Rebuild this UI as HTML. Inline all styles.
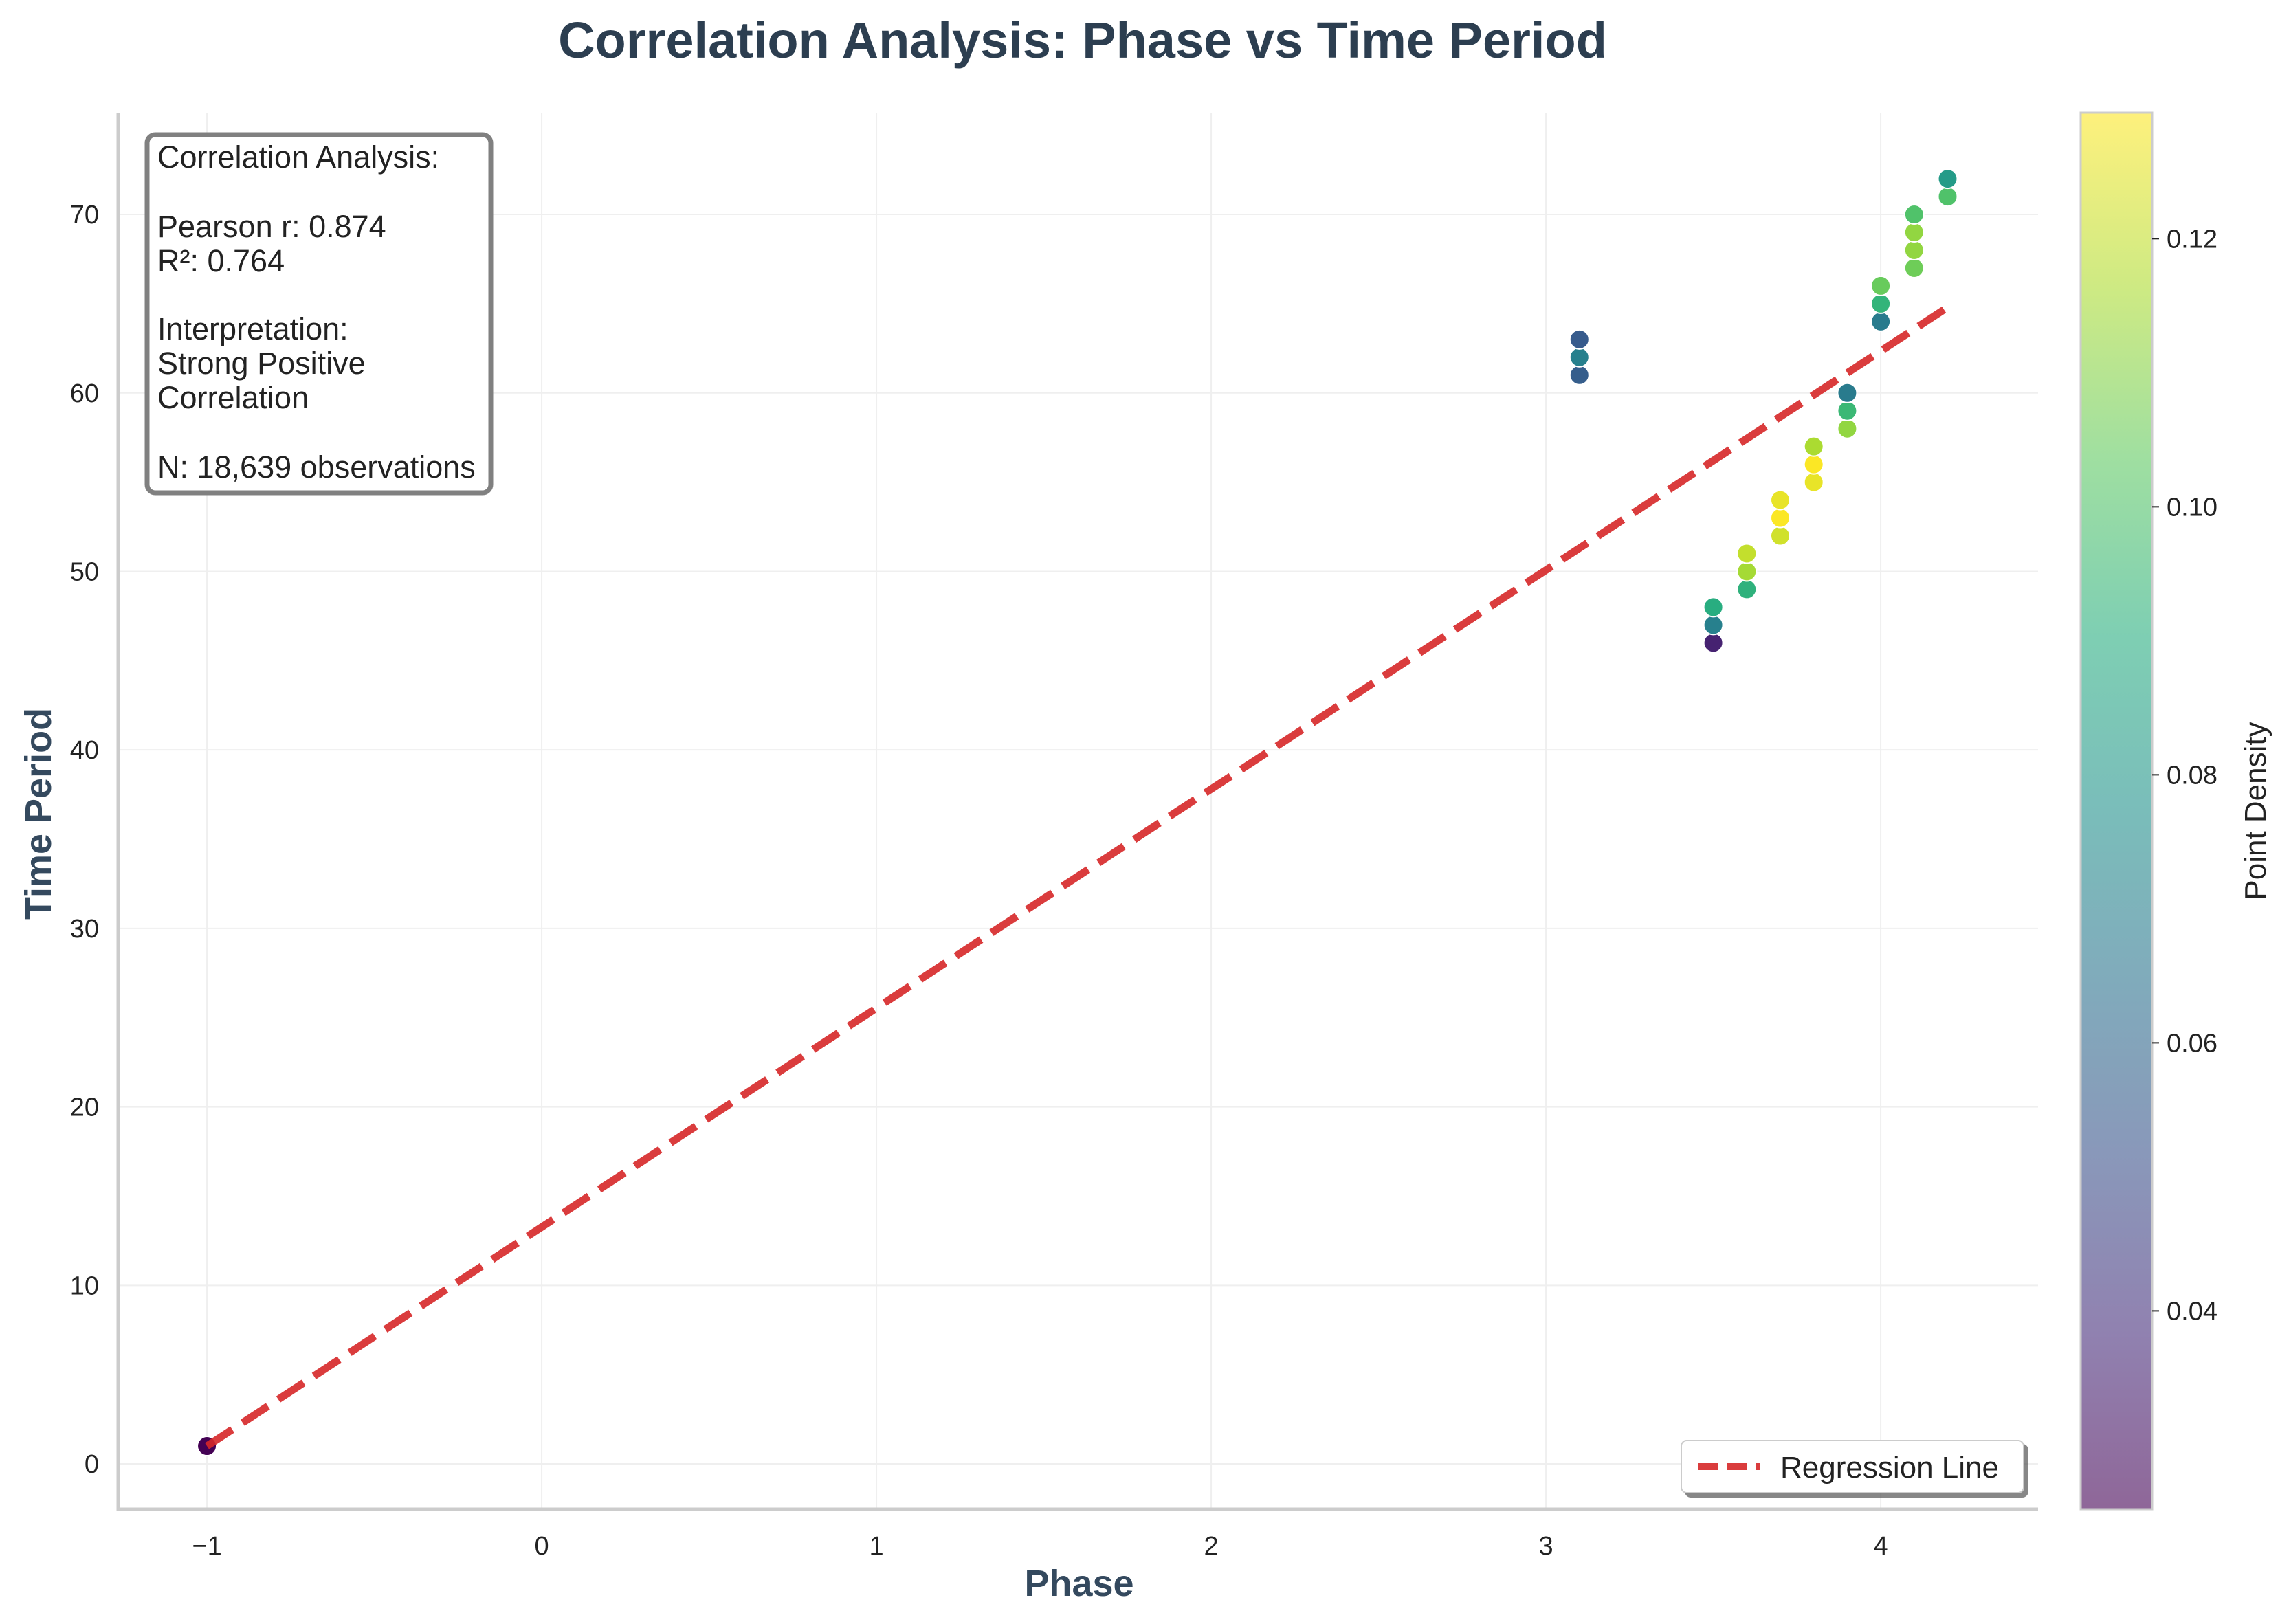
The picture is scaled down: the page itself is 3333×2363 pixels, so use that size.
<!DOCTYPE html>
<html><head><meta charset="utf-8"><style>
html,body{margin:0;padding:0;background:#fff;}
svg{display:block;font-family:"Liberation Sans",Arial,sans-serif;}
</style></head><body>
<svg id="chart" width="3333" height="2363" viewBox="0 0 3333 2363" xmlns="http://www.w3.org/2000/svg">
<defs>
<linearGradient id="cbgrad" x1="0" y1="1" x2="0" y2="0">
<stop offset="0" stop-color="#440154"/><stop offset="0.125" stop-color="#472d7b"/><stop offset="0.25" stop-color="#3b528b"/><stop offset="0.375" stop-color="#2c728e"/><stop offset="0.5" stop-color="#21918c"/><stop offset="0.625" stop-color="#28ae80"/><stop offset="0.75" stop-color="#5ec962"/><stop offset="0.875" stop-color="#addc30"/><stop offset="1" stop-color="#fde725"/>
</linearGradient>
<filter id="sh" x="-10%" y="-10%" width="130%" height="150%"><feDropShadow dx="6" dy="6" stdDeviation="0" flood-color="#555" flood-opacity="0.7"/></filter>
</defs>
<text x="1575" y="84" text-anchor="middle" font-size="74" font-weight="bold" fill="#2c3e50">Correlation Analysis: Phase vs Time Period</text>
<g id="grid"></g>
<g id="axes"></g>
<g id="pts"></g>
<g id="reg"></g>
<g id="cb"></g>
<g>
<rect x="214" y="196" width="500" height="521" rx="12" fill="#fff" stroke="#808080" stroke-width="7"/>
<text font-size="45" fill="#222">
<tspan x="229" y="244">Correlation Analysis:</tspan>
<tspan x="229" y="345">Pearson r: 0.874</tspan>
<tspan x="229" y="395">R²: 0.764</tspan>
<tspan x="229" y="494">Interpretation:</tspan>
<tspan x="229" y="544">Strong Positive</tspan>
<tspan x="229" y="594">Correlation</tspan>
<tspan x="229" y="695">N: 18,639 observations</tspan>
</text>
</g>
<g>
<rect x="2446" y="2096" width="498" height="76" rx="8" fill="#fff" stroke="#ccc" stroke-width="2" filter="url(#sh)"/>
<line x1="2470" y1="2134" x2="2560" y2="2134" stroke="#d62728" stroke-width="10" stroke-dasharray="30,12" stroke-opacity="0.9"/>
<text x="2590" y="2150" font-size="44" fill="#222">Regression Line</text>
</g>
<text x="0" y="0" font-size="54" font-weight="bold" fill="#34495e" text-anchor="middle" transform="translate(1570,2322)">Phase</text>
<text x="0" y="0" font-size="54" font-weight="bold" fill="#34495e" text-anchor="middle" transform="translate(74,1184) rotate(-90)">Time Period</text>
<text x="0" y="0" font-size="44" fill="#222" text-anchor="middle" transform="translate(3296,1180) rotate(-90)">Point Density</text>
</svg>
<script>
const phase = [-1, 3.1,3.1,3.1, 3.5,3.5,3.5, 3.6,3.6,3.6, 3.7,3.7,3.7, 3.8,3.8,3.8, 3.9,3.9,3.9, 4.0,4.0,4.0, 4.1,4.1,4.1,4.1, 4.2,4.2];
const timePeriod = [1, 61,62,63, 46,47,48, 49,50,51, 52,53,54, 55,56,57, 58,59,60, 64,65,66, 67,68,69,70, 71,72];
const density = [0.025, 0.056,0.07,0.055, 0.035,0.07,0.09, 0.092,0.115,0.12, 0.122,0.129,0.126, 0.126,0.129,0.116, 0.112,0.095,0.068, 0.068,0.093,0.105, 0.106,0.112,0.112,0.1, 0.1,0.082];
const regX = [-1, 4.2];
const regY = [1, 64.8];
const xTicks = [-1,0,1,2,3,4];
const yTicks = [0,10,20,30,40,50,60,70];
const cbTicks = [0.04,0.06,0.08,0.10,0.12];

const L=172,R=2965,T=164,B=2196;
const xMin=-1.265,xMax=4.47,yMin=-2.54,yMax=75.7,cMin=0.0252,cMax=0.1294;
const X=v=>L+(v-xMin)/(xMax-xMin)*(R-L);
const Y=v=>B-(v-yMin)/(yMax-yMin)*(B-T);
const C=v=>B-(v-cMin)/(cMax-cMin)*(B-T);
const NS='http://www.w3.org/2000/svg';
function mk(tag,attrs,parent){const e=document.createElementNS(NS,tag);for(const k in attrs)e.setAttribute(k,attrs[k]);parent.appendChild(e);return e;}
const vir=[[68,1,84],[71,45,123],[59,82,139],[44,114,142],[33,145,140],[40,174,128],[94,201,98],[173,220,48],[253,231,37]];
function viridis(t){t=Math.max(0,Math.min(1,t))*8;const i=Math.min(7,Math.floor(t)),f=t-i;const a=vir[i],b=vir[i+1];return 'rgb('+a.map((c,k)=>Math.round(c+(b[k]-c)*f)).join(',')+')';}

const grid=document.getElementById('grid'),axes=document.getElementById('axes');
xTicks.forEach(v=>{
  const g=mk('line',{x1:X(v),x2:X(v),y1:T,y2:B,stroke:'#efefef','stroke-width':2},grid);
  
  
  const t=mk('text',{x:X(v),y:B+66,'font-size':38,fill:'#222','text-anchor':'middle'},axes);
  t.textContent=v<0?'\u2212'+Math.abs(v):String(v);
  
  
});
yTicks.forEach(v=>{
  const g=mk('line',{x1:L,x2:R,y1:Y(v),y2:Y(v),stroke:'#efefef','stroke-width':2},grid);
  
  
  const t=mk('text',{x:L-28,y:Y(v)+13,'font-size':38,fill:'#222','text-anchor':'end'},axes);
  t.textContent=String(v);
  
  
});
const sp1=mk('line',{x1:L,x2:L,y1:T,y2:B+3,stroke:'#cccccc','stroke-width':5},axes);


const sp2=mk('line',{x1:L-2,x2:R,y1:B,y2:B,stroke:'#cccccc','stroke-width':5},axes);



const pts=document.getElementById('pts');
phase.forEach((p,i)=>{
  const c=mk('circle',{cx:X(p),cy:Y(timePeriod[i]),r:14,fill:viridis((density[i]-cMin)/(cMax-cMin)),stroke:'#fff','stroke-width':2},pts);
  
  
});

const reg=mk('line',{x1:X(regX[0]),y1:Y(regY[0]),x2:X(regX[1]),y2:Y(regY[1]),stroke:'#d62728','stroke-width':11,'stroke-dasharray':'44,18','stroke-opacity':0.9},document.getElementById('reg'));



const cb=document.getElementById('cb');
const bar=mk('rect',{x:3027,y:T,width:104,height:B-T,fill:'url(#cbgrad)','fill-opacity':0.6,stroke:'#cccccc','stroke-width':3},cb);


cbTicks.forEach(v=>{
  const tk=mk('line',{x1:3131,x2:3141,y1:C(v),y2:C(v),stroke:'#222','stroke-width':2},cb);
  
  
  const t=mk('text',{x:3152,y:C(v)+13,'font-size':38,fill:'#222'},cb);
  t.textContent=v.toFixed(2);
  
  
});
</script>
</body></html>
